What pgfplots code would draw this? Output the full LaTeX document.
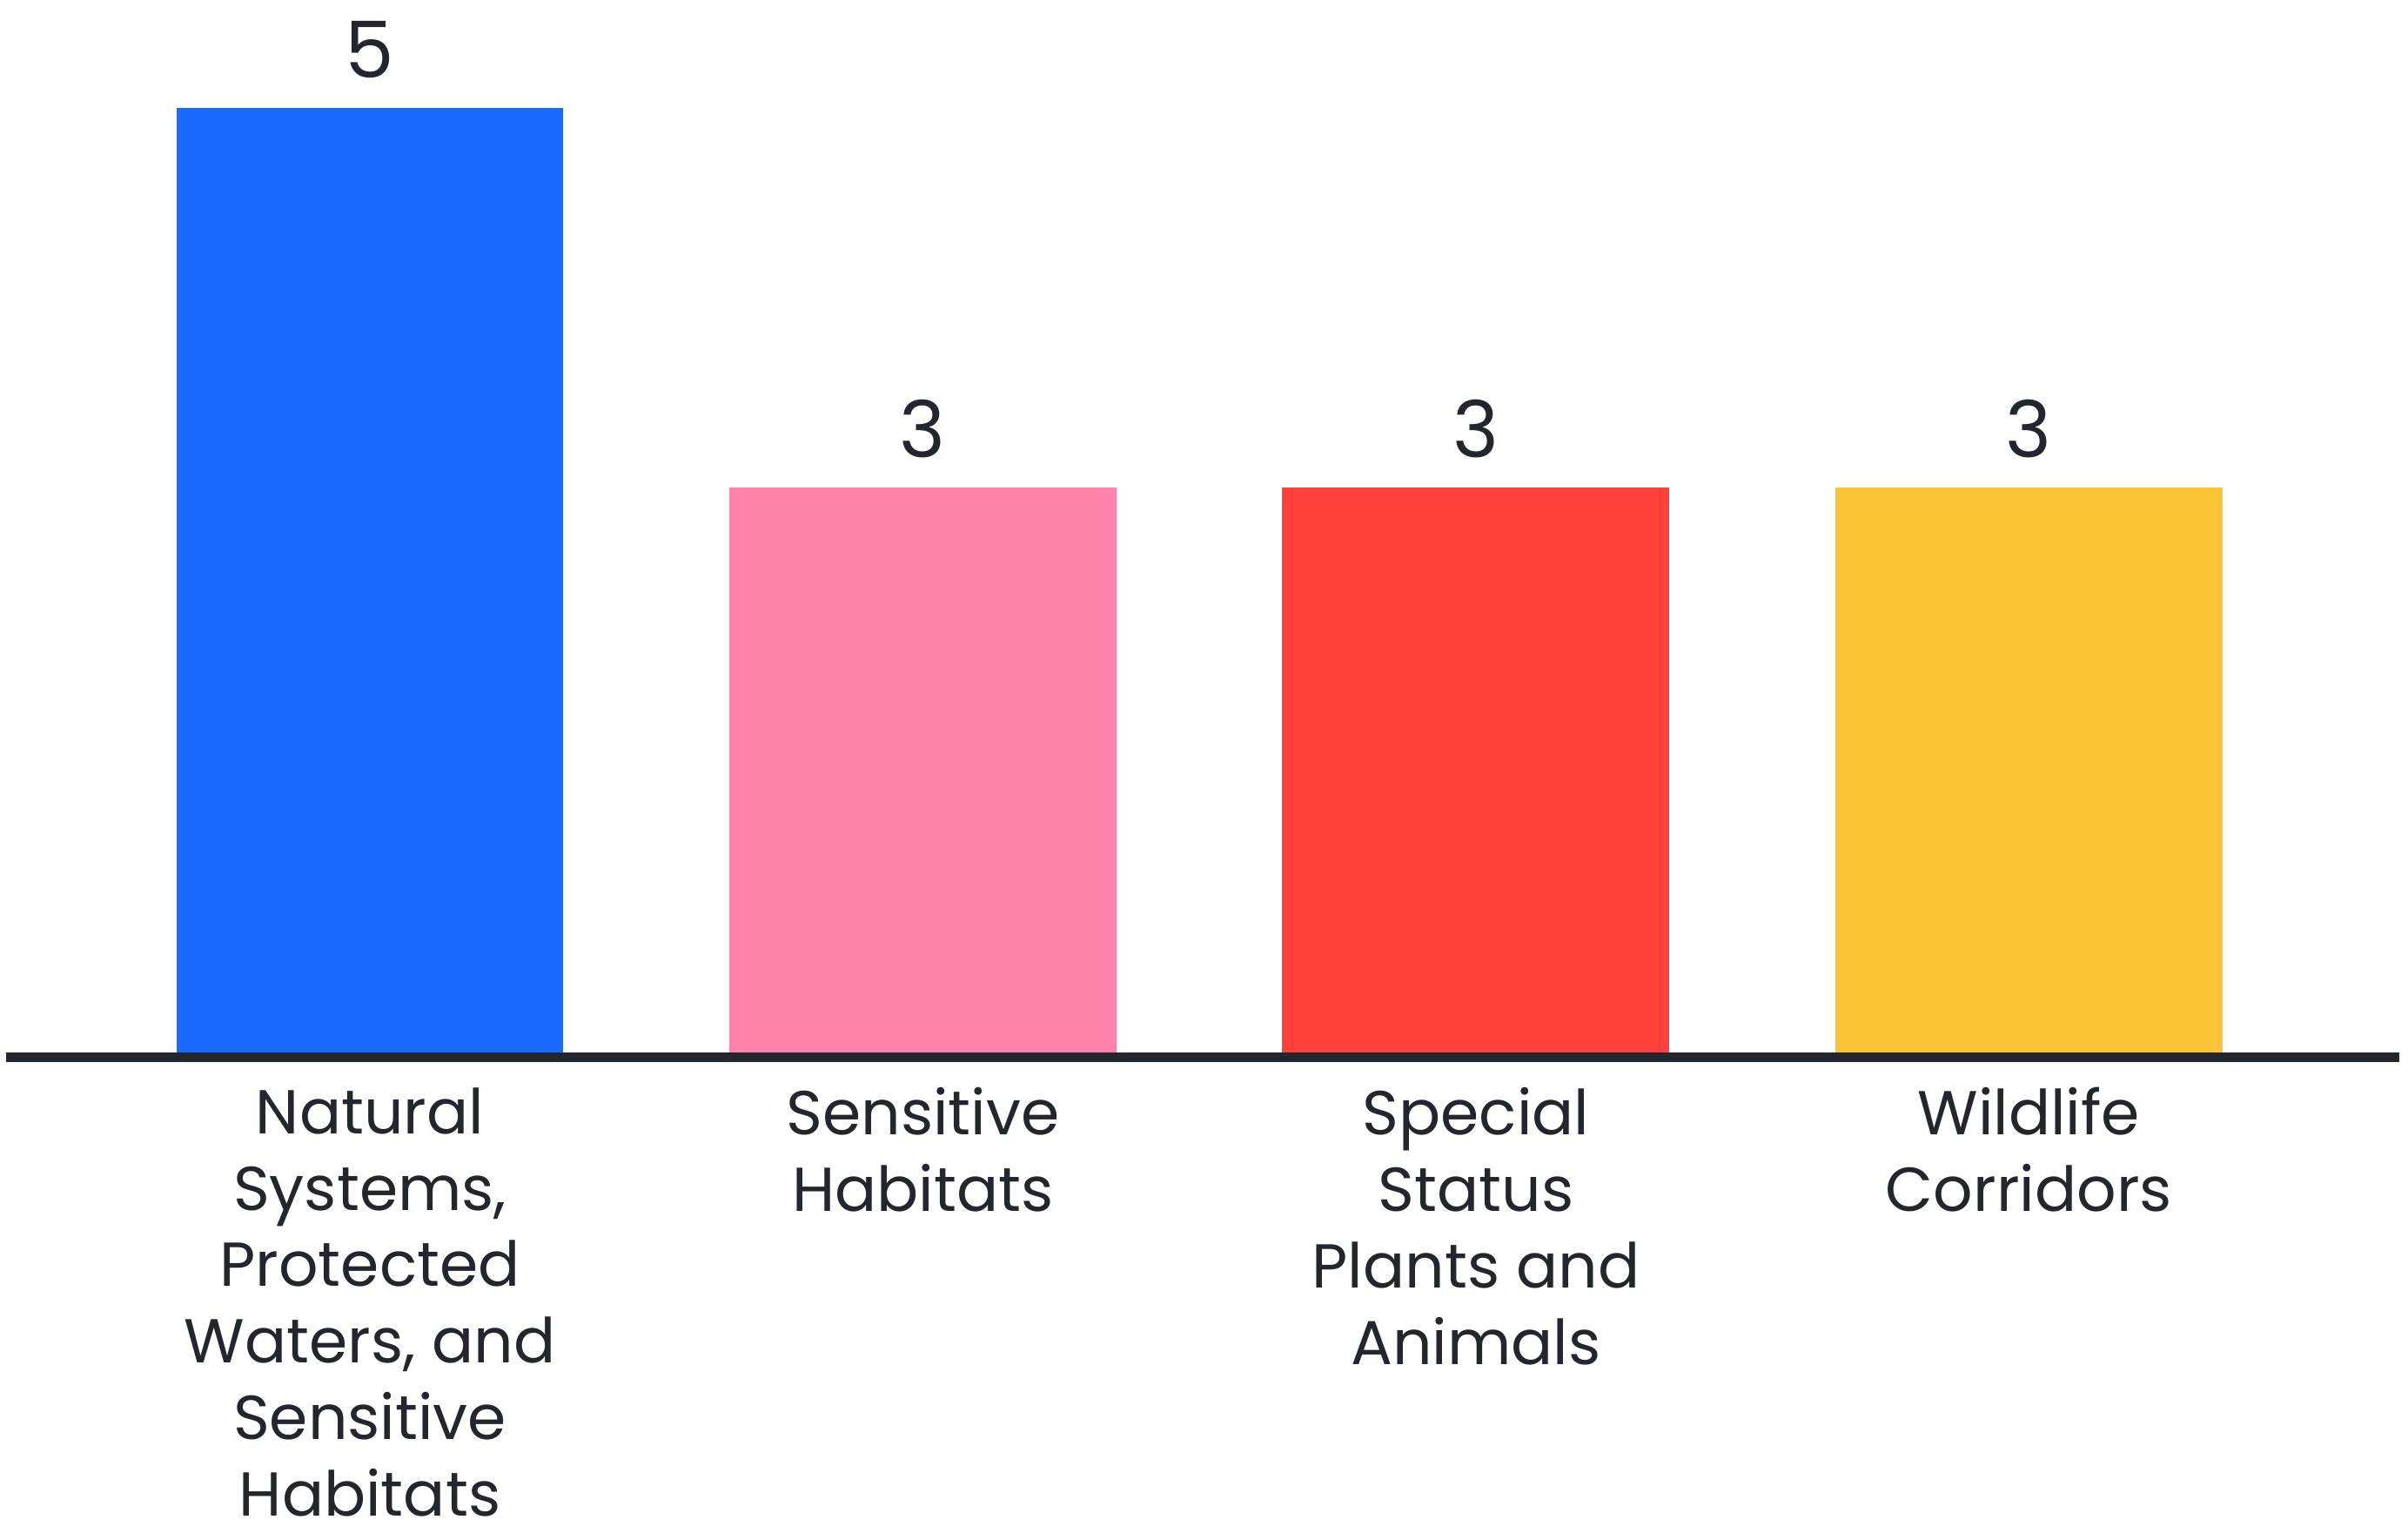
\documentclass[border=0pt]{standalone}
\usepackage{pgfplots}
\pgfplotsset{compat=1.18}
\usepackage{fontspec}
\setmainfont{Poppins}
\definecolor{cblue}{RGB}{27,106,255}
\definecolor{cpink}{RGB}{255,130,170}
\definecolor{cred}{RGB}{255,65,60}
\definecolor{cyellow}{RGB}{252,196,55}
\definecolor{ctext}{RGB}{35,38,44}
\begin{document}
\begin{tikzpicture}
\begin{axis}[
  scale only axis,
  width=397.5pt, height=157.6pt,
  xmin=-0.658, xmax=3.670,
  ymin=0, ymax=5,
  clip=false,
  axis x line*=bottom,
  axis y line=none,
  x axis line style={line width=1.6pt, color=ctext, -},
  axis on top,
  ybar, bar width=64.3pt,
  xtick={0,1,2,3},
  major tick length=0pt,
  /pgf/number format/assume math mode=true,
  xticklabels={{Natural\\Systems,\\Protected\\Waters, and\\Sensitive\\Habitats},{Sensitive\\Habitats},{Special\\Status\\Plants and\\Animals},{Wildlife\\Corridors}},
  xticklabel style={align=center, font=\fontsize{10.3}{12.7}\selectfont, text=ctext, anchor=north, yshift=-1.5pt},
  ytick=\empty,
  nodes near coords,
  every node near coord/.append style={font=\fontsize{13}{15}\selectfont, text=ctext, yshift=1.5pt},
]
\addplot[fill=cblue, draw=none, bar shift=0pt] coordinates {(0,5)};
\addplot[fill=cpink, draw=none, bar shift=0pt] coordinates {(1,3)};
\addplot[fill=cred, draw=none, bar shift=0pt] coordinates {(2,3)};
\addplot[fill=cyellow, draw=none, bar shift=0pt] coordinates {(3,3)};
\coordinate (bbSW) at (axis description cs:-0.0025,-0.501);
\coordinate (bbNE) at (axis description cs:1.0036,1.114);
\end{axis}
\pgfresetboundingbox
\path (bbSW) rectangle (bbNE);
\end{tikzpicture}
\end{document}
